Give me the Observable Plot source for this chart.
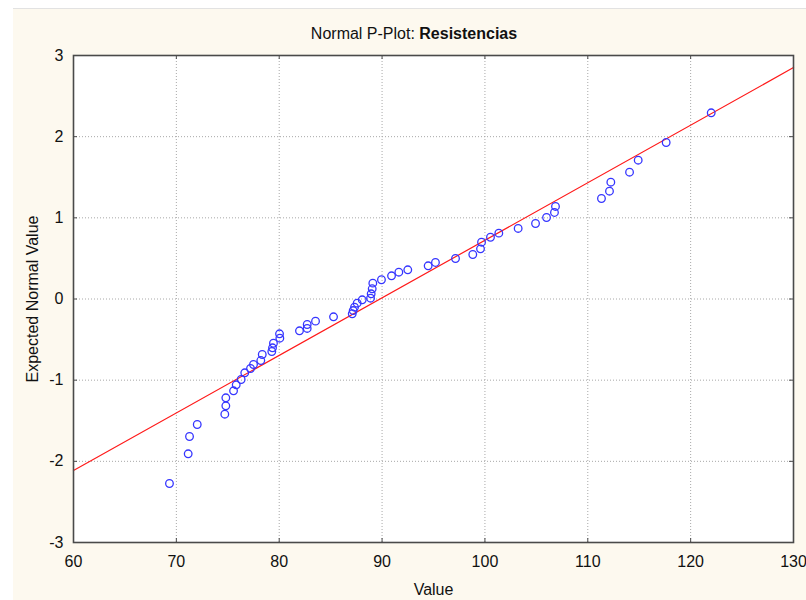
<!DOCTYPE html>
<html>
<head>
<meta charset="utf-8">
<script src="https://cdn.jsdelivr.net/npm/d3@7"></script>
<script src="https://cdn.jsdelivr.net/npm/@observablehq/plot@0.6"></script>
<style>
  html, body { margin: 0; padding: 0; background: #ffffff; }
  #wrap { position: relative; width: 806px; height: 600px; overflow: hidden; }
  #panel { position: absolute; left: 13px; top: 8px; right: 0; bottom: 0;
           background: #fdf9ef; border-top: 1px solid #e2e2e2; }
  #title { position: absolute; left: 13px; width: 802px; top: 25px; text-align: center;
           font: 16px "Liberation Sans", Arial, sans-serif; color: #111; white-space: pre; }
  #title b { font-weight: bold; }
  #chart { position: absolute; left: 0; top: 0; }
</style>
</head>
<body>
<div id="wrap">
  <div id="panel"></div>
  <div id="title">Normal P-Plot: <b>Resistencias</b></div>
  <div id="chart"></div>
</div>
<script>
// Observed resistance values (sorted) and their expected normal scores
const values = [
  69.33, 71.15, 71.28, 72.03, 74.71, 74.81, 74.81, 75.56, 75.82, 76.30,
  76.65, 77.21, 77.50, 78.21, 78.35, 79.28, 79.35, 79.44, 80.06, 80.03,
  81.97, 82.72, 82.72, 83.53, 85.28, 87.10, 87.19, 87.32, 87.58, 88.07,
  88.88, 88.94, 89.04, 89.10, 89.94, 90.92, 91.63, 92.50, 94.48, 95.19,
  97.14, 98.82, 99.57, 99.67, 100.54, 101.35, 103.23, 104.92, 105.99, 106.76,
  106.86, 111.33, 112.11, 112.24, 114.06, 114.90, 117.62, 122.00
];
const expectedNormal = [
  -2.273, -1.907, -1.694, -1.546, -1.419, -1.316, -1.217, -1.131, -1.057, -0.992,
  -0.909, -0.856, -0.807, -0.758, -0.684, -0.647, -0.601, -0.545, -0.483, -0.429,
  -0.392, -0.363, -0.314, -0.273, -0.219, -0.182, -0.142, -0.101, -0.052, -0.010,
  0.010, 0.064, 0.126, 0.195, 0.237, 0.286, 0.330, 0.360, 0.409, 0.450,
  0.499, 0.548, 0.618, 0.700, 0.761, 0.811, 0.869, 0.930, 1.004, 1.066,
  1.140, 1.238, 1.328, 1.439, 1.562, 1.710, 1.928, 2.294
];

// Reference normal line: z = (value - mean) / sd
const lineMean = 89.8;
const lineSD = 14.1;

const xTicks = [60, 70, 80, 90, 100, 110, 120, 130];
const yTicks = [-3, -2, -1, 0, 1, 2, 3];
const xDomain = [60, 130];
const yDomain = [-3, 3];

const points = values.map((v, i) => ({value: v, z: expectedNormal[i]}));
const fitLine = xDomain.map(v => ({value: v, z: (v - lineMean) / lineSD}));

// plot area geometry
const W = 806, H = 600;
const mL = 73, mR = 13, mT = 55, mB = 58;
const tickPx = 4;
const tx = tickPx * (xDomain[1] - xDomain[0]) / (W - mL - mR);
const ty = tickPx * (yDomain[1] - yDomain[0]) / (H - mT - mB);
const innerX = xTicks.slice(1, -1);
const innerY = yTicks.slice(1, -1);
const frameColor = "#4a4a4a";
const plainNumber = d => String(d);

const chart = Plot.plot({
  width: W, height: H,
  marginLeft: mL, marginRight: mR, marginTop: mT, marginBottom: mB,
  style: {background: "transparent", fontFamily: "'Liberation Sans', Arial, sans-serif", fontSize: "16px", color: "#111"},
  x: {domain: xDomain},
  y: {domain: yDomain},
  marks: [
    Plot.frame({fill: "#ffffff"}),
    Plot.gridX(innerX, {stroke: "#a8a8a8", strokeOpacity: 1, strokeDasharray: "1,2"}),
    Plot.gridY(innerY, {stroke: "#a8a8a8", strokeOpacity: 1, strokeDasharray: "1,2"}),
    // inward tick marks on all four edges
    Plot.ruleX(innerX, {x: d => d, y1: yDomain[1], y2: yDomain[1] - ty, stroke: frameColor}),
    Plot.ruleX(innerX, {x: d => d, y1: yDomain[0], y2: yDomain[0] + ty, stroke: frameColor}),
    Plot.ruleY(innerY, {y: d => d, x1: xDomain[0], x2: xDomain[0] + tx, stroke: frameColor}),
    Plot.ruleY(innerY, {y: d => d, x1: xDomain[1], x2: xDomain[1] - tx, stroke: frameColor}),
    Plot.line(fitLine, {x: "value", y: "z", stroke: "#ff1a1a", strokeWidth: 1.2}),
    Plot.dot(points, {x: "value", y: "z", r: 3.8, stroke: "#3535ff", strokeWidth: 1.3, fill: "none"}),
    Plot.frame({stroke: frameColor, strokeWidth: 1.6}),
    Plot.axisX(xTicks, {tickSize: 0, tickPadding: 13, label: null, tickFormat: plainNumber, fill: "#111"}),
    Plot.axisY(yTicks, {tickSize: 0, tickPadding: 10, label: null, tickFormat: plainNumber, fill: "#111"}),
    Plot.text(["Value"], {frameAnchor: "bottom", dy: 47, lineAnchor: "middle", textAnchor: "middle", fill: "#111"}),
    Plot.text(["Expected Normal Value"], {frameAnchor: "left", dx: -41, rotate: -90, lineAnchor: "middle", textAnchor: "middle", fill: "#111"})
  ]
});
document.getElementById("chart").append(chart);
</script>
</body>
</html>
